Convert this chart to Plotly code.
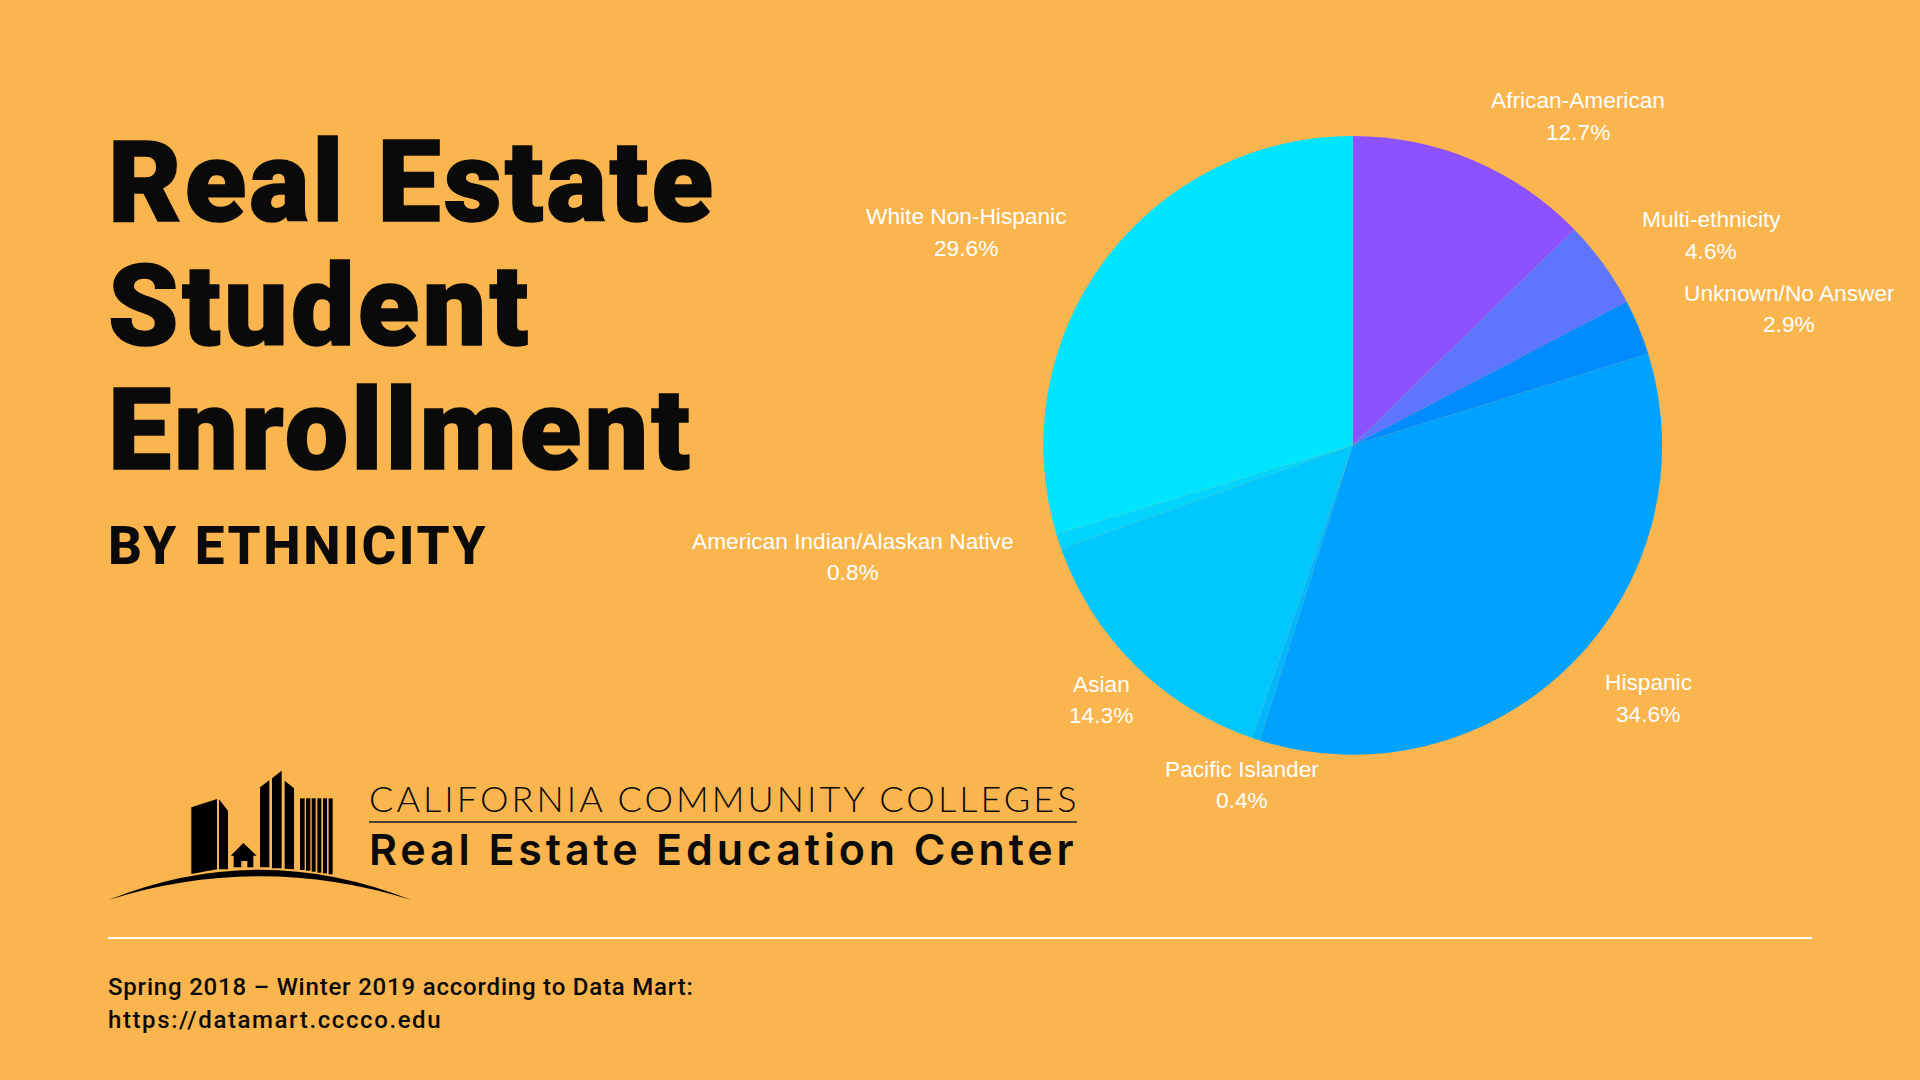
import json
import plotly.graph_objects as go

W = 1920
H = 1080
BG = '#FAB54E'

# Pie data, clockwise from 12 o'clock
ethnicity = ['African-American', 'Multi-ethnicity', 'Unknown/No Answer', 'Hispanic',
             'Pacific Islander', 'Asian', 'American Indian/Alaskan Native', 'White Non-Hispanic']
share = [12.7, 4.6, 2.9, 34.6, 0.4, 14.3, 0.8, 29.6]
slice_colors = ['#8C52FF', '#5E76FF', '#008CFF', '#00A2FF', '#00B6FF', '#00C8FF', '#00D4FF', '#00E5FF']

# Label centres in pixels: x, name y, percent y
label_x = [1578, 1711, 1789, 1648, 1242, 1101, 853, 966]
label_y = [100, 219, 293, 682, 769, 684, 541, 216]
pct_y = [132, 251, 324, 714, 800, 715, 572, 248]

title_lines = ['Real Estate', 'Student', 'Enrollment']
title_y = [182, 306, 430]
subtitle = 'BY ETHNICITY'
footer_lines = ['Spring 2018 – Winter 2019 according to Data Mart:', 'https://datamart.cccco.edu']
footer_y = [987, 1020]
logo_top = 'CALIFORNIA COMMUNITY COLLEGES'
logo_bottom = 'Real Estate Education Center'


def fx(x):
    return x / W


def fy(y):
    return 1 - y / H


# Logo coordinates are crop pixels: origin (90, 750), 3x
def lx(x):
    return fx(90 + x / 3)


def ly(y):
    return fy(750 + y / 3)


def poly(points):
    return 'M ' + ' L '.join(f'{lx(x):.5f},{ly(y):.5f}' for x, y in points) + ' Z'


def text(s, x, y, size, family, weight=400, color='#0A0A0A', xanchor='left'):
    return dict(text=s, x=fx(x), y=fy(y), xref='paper', yref='paper', xanchor=xanchor, yanchor='middle',
                showarrow=False, align='center' if xanchor == 'center' else 'left',
                font=dict(size=size, family=family, weight=weight, color=color))


logo_polys = [
    [(304, 172), (381, 147), (381, 358), (304, 372)],
    [(387, 148), (414, 182), (414, 358), (387, 358)],
    [(510, 112), (538, 91), (538, 352), (510, 352)],
    [(546, 85), (575, 62), (575, 355), (546, 355)],
    [(584, 92), (612, 115), (612, 358), (584, 356)],
    [(630, 145), (644, 145), (644, 360), (630, 360)],
    [(648, 145), (661, 145), (661, 362), (648, 362)],
    [(665, 145), (677, 145), (677, 365), (665, 365)],
    [(682, 145), (694, 145), (694, 368), (682, 368)],
    [(699, 145), (711, 145), (711, 370), (699, 370)],
    [(716, 145), (728, 145), (728, 373), (716, 373)],
    [(422, 317), (460, 279), (500, 317), (490, 317), (490, 352), (472, 352), (472, 333),
     (454, 333), (454, 352), (431, 352), (431, 317)],
]

shapes = [dict(type='path', xref='paper', yref='paper', path=poly(p), fillcolor='#000000', line_width=0)
          for p in logo_polys]
# Hill under the buildings
shapes.append(dict(type='path', xref='paper', yref='paper', fillcolor='#000000', line_width=0,
                   path=f'M {lx(55):.5f},{ly(450):.5f} Q {lx(508):.5f},{ly(268):.5f} {lx(964):.5f},{ly(450):.5f} '
                        f'Q {lx(508):.5f},{ly(308):.5f} {lx(55):.5f},{ly(450):.5f} Z'))
# Rule under the logo text and footer rule
shapes.append(dict(type='line', xref='paper', yref='paper', x0=fx(369), x1=fx(1077), y0=fy(822), y1=fy(822),
                   line=dict(color='#4A4030', width=2)))
shapes.append(dict(type='line', xref='paper', yref='paper', x0=fx(108), x1=fx(1812), y0=fy(938), y1=fy(938),
                   line=dict(color='#FFFFFF', width=2)))

annotations = []
for s, y in zip(title_lines, title_y):
    annotations.append(text(s, 106, y, 113, 'Roboto', 900))
annotations.append(text(subtitle, 106, 546, 53, 'Roboto', 800))
for s, y in zip(footer_lines, footer_y):
    annotations.append(text(s, 106, y, 24, 'Roboto', 500))
annotations.append(text(logo_top, 367, 798, 36, 'Lato', 300))
annotations.append(text(logo_bottom, 367, 849, 43, 'Inter', 600))
for name, pct, x, y0, y1 in zip(ethnicity, share, label_x, label_y, pct_y):
    annotations.append(text(name, x, y0, 22.7, 'Liberation Sans', color='#FFFFFF', xanchor='center'))
    annotations.append(text(f'{pct}%', x, y1, 22.7, 'Liberation Sans', color='#FFFFFF', xanchor='center'))

fig = go.Figure(go.Pie(
    labels=ethnicity,
    values=share,
    sort=False,
    direction='clockwise',
    rotation=0,
    marker=dict(colors=slice_colors, line=dict(width=0)),
    textinfo='none',
    hoverinfo='label+text',
    domain=dict(x=[fx(1352.7 - 309.4), fx(1352.7 + 309.4)], y=[fy(445.3 + 309.4), fy(445.3 - 309.4)]),
    showlegend=False,
))

fig.update_layout(width=W, height=H, margin=dict(l=0, r=0, t=0, b=0), paper_bgcolor=BG, plot_bgcolor=BG,
                  showlegend=False, annotations=annotations, shapes=shapes)

# Letter spacing has no layout setting, so set it on the text nodes after drawing
spacing = {title_lines[0]: 3, title_lines[1]: 3.2, title_lines[2]: 3, subtitle: 2.6,
           footer_lines[0]: 0.8, footer_lines[1]: 1.6, logo_top: 3.07, logo_bottom: 3.85}
post = ("document.body.style.margin='0';var sp=" + json.dumps(spacing) + ";"
        "document.querySelectorAll('.annotation-text').forEach(function(t){"
        "var k=t.textContent;if(sp[k]!==undefined){t.style.letterSpacing=sp[k]+'px';}"
        "if(t.style.fontSize==='113px'){t.style.stroke='#0A0A0A';t.style.strokeWidth='1.5px';}});")

fig.write_html("out.html", post_script=post, config=dict(displayModeBar=False))
